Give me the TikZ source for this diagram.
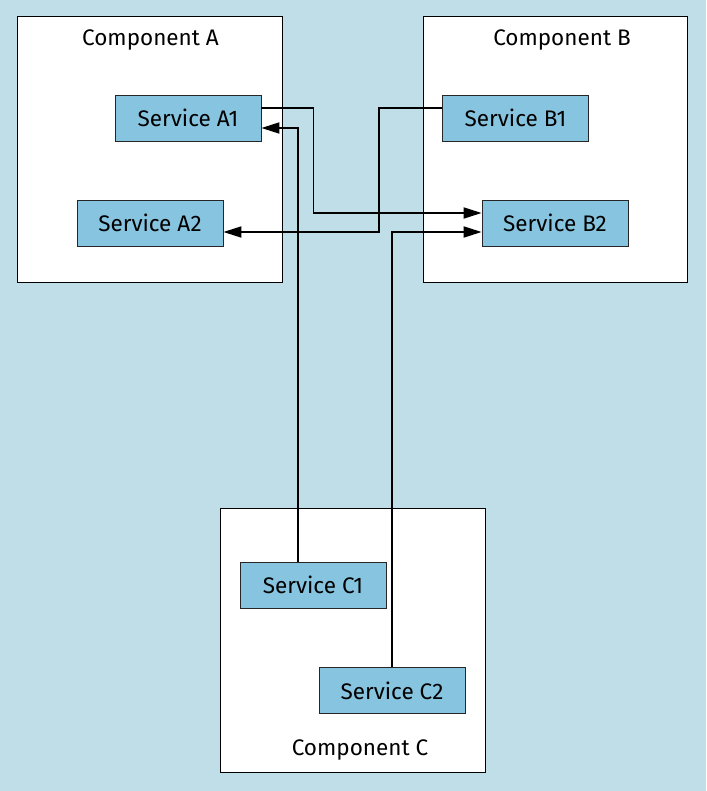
\documentclass[tikz,border=0pt]{standalone}
\usepackage{fontspec}
\setmainfont{Fira Sans}
\usetikzlibrary{arrows.meta}
\definecolor{bgblue}{RGB}{192,222,232}
\definecolor{svcblue}{RGB}{134,196,224}
\begin{document}
\begin{tikzpicture}[x=1pt,y=-1pt,
  component/.style={draw=black, line width=0.8pt, fill=white},
  service/.style={draw=black!85, line width=0.8pt, fill=svcblue, minimum width=146pt, minimum height=46pt, inner sep=0pt, font=\fontsize{22.5}{26}\selectfont},
  label/.style={font=\fontsize{22.5}{26}\selectfont, inner sep=0pt},
  conn/.style={draw=black, line width=1.8pt},
  arr/.style={conn, -{Triangle[length=18pt,width=11pt]}}]
% canvas
\fill[bgblue] (0,0) rectangle (706,791);
\useasboundingbox (0,0) rectangle (706,791);
% components
\draw[component] (17,16) rectangle (282,282);
\draw[component] (423,16) rectangle (687,282);
\draw[component] (220,508) rectangle (485,772);
\node[label] (labA) at (150.5,40) {Component A};
\node[label] (labB) at (562,40) {Component B};
\node[label] (labC) at (360,750) {Component C};
% services
\node[service] (A1) at (188,118) {Service A1};
\node[service] (A2) at (150,223) {Service A2};
\node[service] (B1) at (515.5,118) {Service B1};
\node[service] (B2) at (555,223) {Service B2};
\node[service] (C1) at (313,585) {Service C1};
\node[service] (C2) at (392,690.5) {Service C2};
% connectors
\draw[arr] ([yshift=10pt]A1.east) -- ++(52,0) |- ([yshift=10pt]B2.west);
\draw[arr] ([yshift=10pt]B1.west) -- ++(-63,0) |- ([yshift=-9pt]A2.east);
\draw[arr] ([xshift=-15pt]C1.north) |- ([yshift=-10pt]A1.east);
\draw[arr] (C2.north) |- ([yshift=-9pt]B2.west);
\end{tikzpicture}
\end{document}
